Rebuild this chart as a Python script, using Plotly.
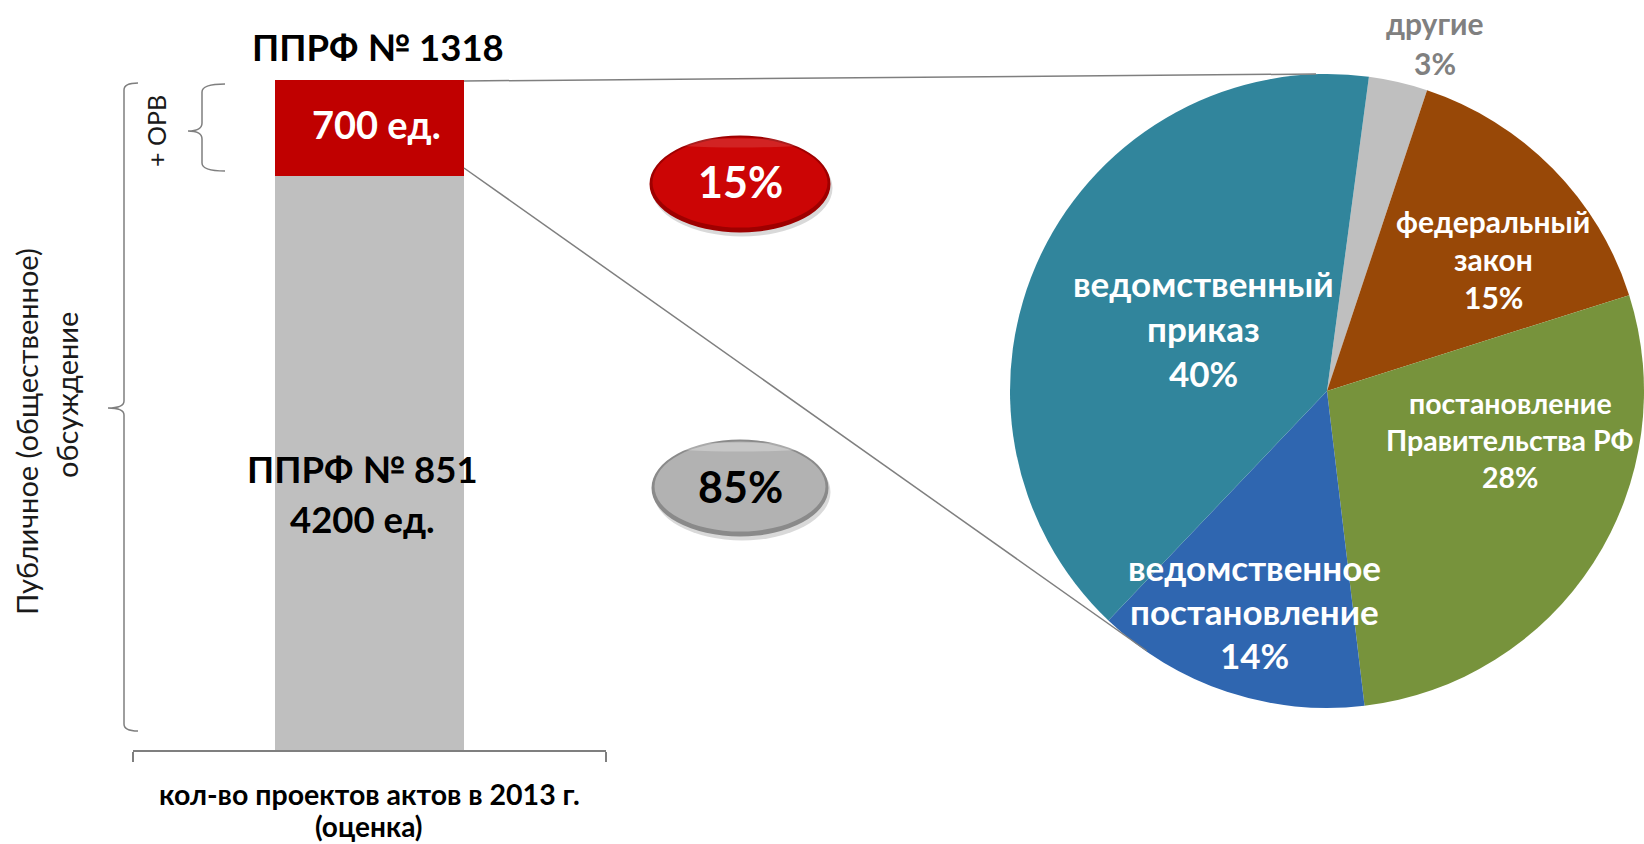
import plotly.graph_objects as go

W, H = 1644, 844

# ---------------- data ----------------
bar_category = [0]
bar_series = ["ППРФ № 851", "ППРФ № 1318"]
bar_values = [4200, 700]
bar_units = ["4200 ед.", "700 ед."]
bar_colors = ["#BFBFBF", "#C00000"]
share_labels = ["85%", "15%"]
axis_title_lines = ["кол-во проектов актов в 2013 г.", "(оценка)"]
side_label_lines = ["Публичное (общественное)", "обсуждение"]
orv_label = "+ ОРВ"

pie_labels = ["другие", "федеральный закон", "постановление Правительства РФ",
              "ведомственное постановление", "ведомственный приказ"]
pie_values = [3, 15, 28, 14, 40]
pie_colors = ["#BFBFBF", "#984807", "#77933C", "#2F66B0", "#31859C"]
pie_label_lines = [["другие"], ["федеральный", "закон"],
                   ["постановление", "Правительства РФ"],
                   ["ведомственное", "постановление"],
                   ["ведомственный", "приказ"]]

FONT = "Lato"
GRAY = "#7F7F7F"


def px(x):
    return x / W


def py(y):
    return 1 - y / H


fig = go.Figure()

# stacked bar
for name, val, col in zip(bar_series, bar_values, bar_colors):
    fig.add_trace(go.Bar(x=bar_category, y=[val], name=name, width=0.4,
                         marker=dict(color=col, line=dict(width=0)),
                         showlegend=False, hoverinfo="name+y"))

# pie
fig.add_trace(go.Pie(labels=pie_labels, values=pie_values, sort=False,
                     direction="clockwise", rotation=7.6,
                     marker=dict(colors=pie_colors, line=dict(width=0)),
                     textinfo="none", showlegend=False,
                     domain=dict(x=[px(1010), 1.0], y=[py(715), py(67)])))

annotations = []


def ann(text, x, y, size, color="black", weight=700, angle=0):
    annotations.append(dict(text=text, x=px(x), y=py(y), xref="paper", yref="paper",
                            showarrow=False, textangle=angle, xanchor="center",
                            yanchor="middle",
                            font=dict(family=FONT, size=size, color=color, weight=weight)))


# bar texts
ann(bar_series[1], 378, 47, 36.5)
ann(bar_units[1], 376, 124, 38, color="white")
ann(bar_series[0], 362, 469, 36.5)
ann(bar_units[0], 362, 519, 36.5)
ann(axis_title_lines[0], 369, 794, 28.5)
ann(axis_title_lines[1], 369, 826, 28)
ann(side_label_lines[0], 27, 432, 29, color="#1a1a1a", weight=400, angle=-90)
ann(side_label_lines[1], 66, 395, 29, color="#1a1a1a", weight=400, angle=-90)
ann(orv_label, 156, 131, 25, color="#1a1a1a", weight=400, angle=-90)

# ovals
shapes = []


def oval(cx, cy, w, h, outer, inner, hl):
    shapes.append(dict(type="circle", xref="paper", yref="paper",
                       x0=px(cx - w / 2 + 2), x1=px(cx + w / 2 + 2),
                       y0=py(cy + h / 2 + 4), y1=py(cy - h / 2 + 4),
                       fillcolor="rgba(0,0,0,0.15)", line=dict(width=0), layer="above"))
    shapes.append(dict(type="circle", xref="paper", yref="paper",
                       x0=px(cx - w / 2), x1=px(cx + w / 2),
                       y0=py(cy + h / 2), y1=py(cy - h / 2),
                       fillcolor=outer, line=dict(width=0), layer="above"))
    shapes.append(dict(type="circle", xref="paper", yref="paper",
                       x0=px(cx - w / 2 + 3), x1=px(cx + w / 2 - 3),
                       y0=py(cy + h / 2 - 5), y1=py(cy - h / 2 + 2),
                       fillcolor=inner, line=dict(width=0), layer="above"))
    shapes.append(dict(type="circle", xref="paper", yref="paper",
                       x0=px(cx - w / 2 + 14), x1=px(cx + w / 2 - 14),
                       y0=py(cy - h / 2 + 12), y1=py(cy - h / 2 + 3),
                       fillcolor=hl, line=dict(width=0), layer="above"))


oval(740, 184, 181, 97, "#9E0000", "#CC0505", "rgba(255,255,255,0.12)")
oval(740, 488, 177, 97, "#8A8A8A", "#B2B2B2", "rgba(255,255,255,0.28)")
ann(share_labels[1], 740, 182, 43, color="white")
ann(share_labels[0], 740, 486, 43, color="black")


# braces
def brace(xl, xh, xt, yt, yb, ym, r):
    pts = (f"M {px(xh)},{py(yt)} Q {px(xl)},{py(yt)} {px(xl)},{py(yt + r)} "
           f"L {px(xl)},{py(ym - r)} Q {px(xl)},{py(ym)} {px(xt)},{py(ym)} "
           f"Q {px(xl)},{py(ym)} {px(xl)},{py(ym + r)} "
           f"L {px(xl)},{py(yb - r)} Q {px(xl)},{py(yb)} {px(xh)},{py(yb)}")
    shapes.append(dict(type="path", xref="paper", yref="paper", path=pts,
                       line=dict(color=GRAY, width=1.5)))


brace(124, 138, 108, 83, 731, 408, 7)
brace(202, 225, 188, 84, 171, 131, 8)

# connecting lines bar -> pie
shapes.append(dict(type="line", xref="paper", yref="paper", x0=px(464), y0=py(81),
                   x1=px(1316), y1=py(74), line=dict(color=GRAY, width=1.5)))
shapes.append(dict(type="line", xref="paper", yref="paper", x0=px(464), y0=py(168),
                   x1=px(1147), y1=py(651), line=dict(color=GRAY, width=1.5)))

# pie labels
total = sum(pie_values)
pie_label_pos = [  # (x, first line y, line spacing, size, color)
    (1435, 23, 40, 30, "#808080"),
    (1493, 221, 38, 30, "white"),
    (1510, 403, 37, 28.5, "white"),
    (1254, 567, 44, 35, "white"),
    (1203, 283, 45, 35, "white"),
]
for lines, v, (x, y0, dy, size, col) in zip(pie_label_lines, pie_values, pie_label_pos):
    allines = lines + [f"{round(100 * v / total)}%"]
    for i, t in enumerate(allines):
        ann(t, x, y0 + i * dy, size, color=col)

fig.update_layout(
    width=W, height=H, margin=dict(l=0, r=0, t=0, b=0),
    paper_bgcolor="white", plot_bgcolor="white",
    barmode="stack", bargap=0,
    xaxis=dict(domain=[px(133), px(606)], range=[-0.5, 0.5], showgrid=False,
               zeroline=False, showline=True, linecolor=GRAY, linewidth=1.5,
               tickvals=[-0.5, 0.5], ticktext=["", ""], ticks="outside", ticklen=10,
               tickcolor=GRAY, tickwidth=1.5, fixedrange=True),
    yaxis=dict(domain=[py(750), py(80)], range=[0, sum(bar_values)], visible=False,
               fixedrange=True),
    annotations=annotations, shapes=shapes,
)

fig.write_html("out.html", config={"displayModeBar": False},
               post_script="document.body.style.margin='0';document.body.style.overflow='hidden';")
